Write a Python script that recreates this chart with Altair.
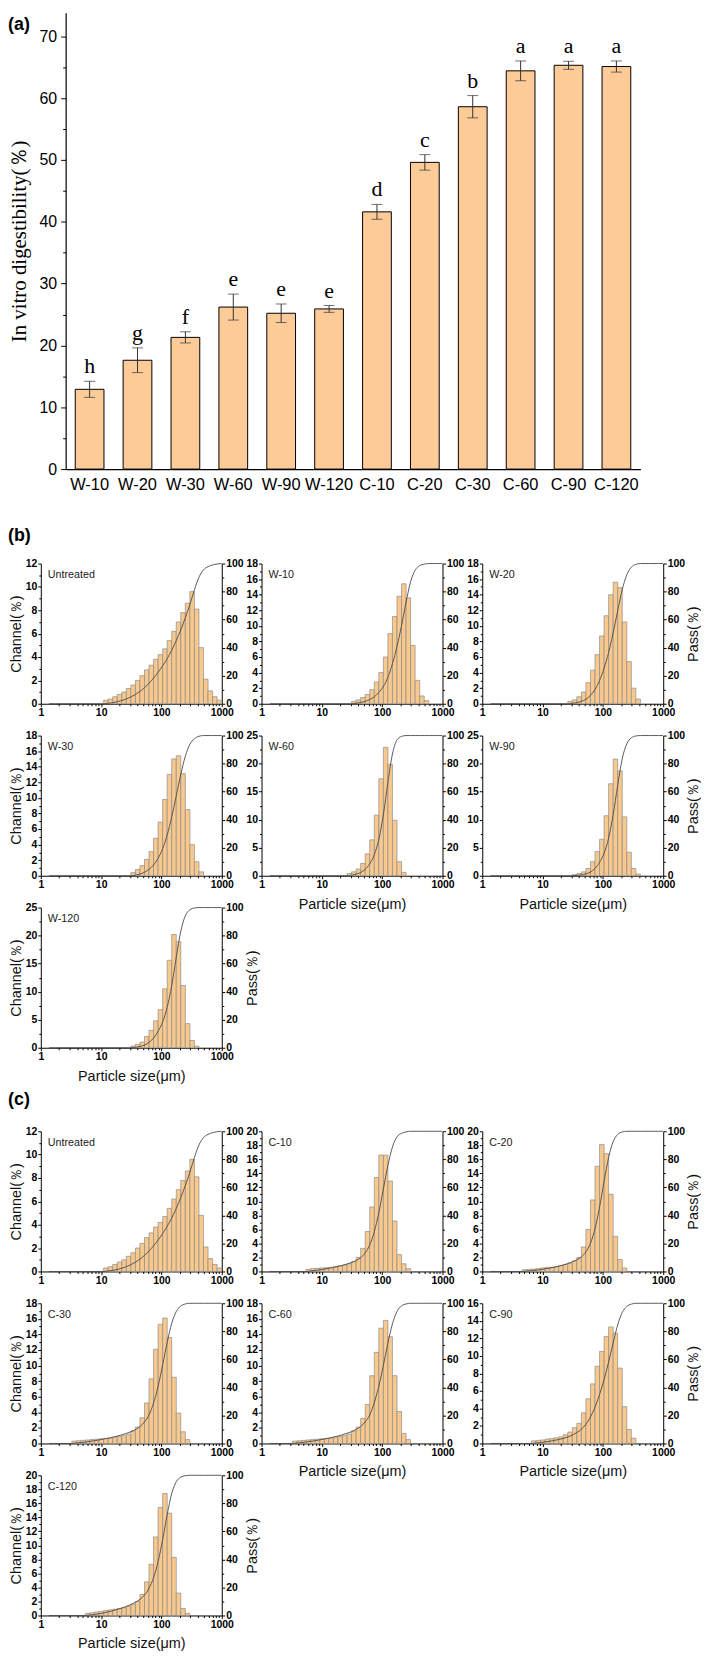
import altair as alt
import pandas as pd

SANS = "Liberation Sans"
SERIF = "Liberation Serif"

# ---------------- panel (a) ----------------
GROUPS = ["W-10", "W-20", "W-30", "W-60", "W-90", "W-120",
          "C-10", "C-20", "C-30", "C-60", "C-90", "C-120"]
DIGESTIBILITY = [12.9, 17.6, 21.3, 26.2, 25.2, 25.9, 41.6, 49.6, 58.6, 64.4, 65.3, 65.1]
DIGEST_SD = [1.3, 2.0, 0.9, 2.1, 1.5, 0.55, 1.2, 1.25, 1.8, 1.6, 0.65, 0.9]
LETTERS = ["h", "g", "f", "e", "e", "e", "d", "c", "b", "a", "a", "a"]
A_TICKS = [0, 10, 20, 30, 40, 50, 60, 70]
A_MINOR = [5, 15, 25, 35, 45, 55, 65]

# ---------------- particle size channels (edges, µm) ----------------
SIZE_EDGES = [0.972, 1.156, 1.375, 1.635, 1.945, 2.312, 2.75, 3.27, 3.889, 4.625,
              5.5, 6.541, 7.778, 9.25, 11.0, 13.08, 15.56, 18.5, 22.0, 26.16,
              31.11, 37.0, 44.0, 52.33, 62.23, 74.0, 88.0, 104.7, 124.5, 148.0,
              176.0, 209.3, 248.9, 296.0, 352.0, 418.6, 497.8, 592.0, 704.0, 837.2, 995.6]

UNTREATED_FROM = 11.0
UNTREATED = [0.3, 0.4, 0.6, 0.8, 1.0, 1.3, 1.6, 2.0, 2.4, 2.9, 3.3, 3.8, 4.2, 4.7,
             5.4, 6.2, 7.0, 7.8, 8.6, 9.6, 8.1, 4.8, 2.1, 1.1, 0.6, 0.3]
W10_FROM = 31.11
W10 = [0.3, 0.5, 0.8, 1.2, 1.8, 2.8, 4.0, 6.0, 9.0, 11.2, 13.8, 15.4, 13.6, 7.5, 3.0, 1.0, 0.4]
W20_FROM = 26.16
W20 = [0.3, 0.5, 0.9, 1.5, 2.7, 4.3, 6.3, 8.7, 11.3, 14.0, 15.6, 14.9, 10.5, 5.4, 2.0, 0.6]
W30_FROM = 31.11
W30 = [0.4, 0.8, 1.3, 2.1, 3.1, 4.8, 6.9, 9.8, 13.0, 15.0, 15.4, 13.1, 8.5, 4.0, 1.8, 0.5]
W60_FROM = 26.16
W60 = [0.4, 0.7, 1.2, 2.2, 3.9, 6.4, 10.8, 17.3, 22.9, 19.9, 9.9, 2.5, 0.6]
W90_FROM = 31.11
W90 = [0.2, 0.4, 0.7, 1.3, 2.5, 4.3, 6.5, 10.7, 16.4, 20.8, 18.7, 10.5, 4.2, 1.3, 0.3]
W120_FROM = 31.11
W120 = [0.3, 0.6, 1.0, 2.0, 3.1, 4.8, 6.8, 10.5, 15.6, 20.2, 18.9, 11.1, 4.3, 1.3, 0.3]
C10_FROM = 5.5
C10 = [0.3, 0.4, 0.45, 0.5, 0.55, 0.6, 0.7, 0.8, 0.9, 1.1, 1.4, 2.0, 3.3, 5.7, 9.2,
       13.4, 16.6, 16.6, 12.9, 7.2, 2.4, 1.1, 0.4]
C20_FROM = 4.625
C20 = [0.25, 0.3, 0.35, 0.4, 0.5, 0.55, 0.6, 0.7, 0.85, 1.0, 1.2, 1.5, 2.0, 3.5, 6.0,
       10.2, 15.0, 18.1, 16.8, 11.0, 5.0, 1.7, 0.5]
C30_FROM = 3.27
C30 = [0.3, 0.35, 0.4, 0.45, 0.5, 0.55, 0.6, 0.65, 0.7, 0.8, 0.9, 1.0, 1.2, 1.6, 2.1,
       3.3, 5.2, 8.3, 12.1, 15.3, 16.1, 13.6, 8.5, 3.9, 1.5, 0.5]
C60_FROM = 3.27
C60 = [0.3, 0.35, 0.4, 0.45, 0.5, 0.55, 0.6, 0.65, 0.7, 0.8, 0.9, 1.0, 1.2, 1.6, 2.1,
       3.2, 5.0, 8.7, 11.7, 14.8, 15.8, 13.7, 8.7, 4.1, 1.3, 0.5]
C90_FROM = 6.541
C90 = [0.3, 0.35, 0.4, 0.5, 0.55, 0.65, 0.75, 1.0, 1.3, 1.8, 2.3, 3.5, 5.1, 6.8, 8.8,
       10.5, 12.2, 13.3, 12.6, 8.6, 4.2, 1.6, 0.6]
C120_FROM = 5.5
C120 = [0.3, 0.4, 0.5, 0.6, 0.7, 0.8, 0.9, 1.0, 1.1, 1.3, 1.6, 2.0, 3.0, 4.8, 7.3,
        11.2, 15.4, 17.4, 14.6, 8.3, 3.2, 1.0, 0.3]

X_MAJOR = [1, 10, 100, 1000]
X_MINOR = [2, 3, 4, 5, 6, 7, 8, 9, 20, 30, 40, 50, 60, 70, 80, 90,
           200, 300, 400, 500, 600, 700, 800, 900]
PASS_TICKS = [0, 20, 40, 60, 80, 100]
PASS_MINOR = [10, 30, 50, 70, 90]

BAR_A = "#FDCB97"
BAR_FILL = "#F9C88C"
BAR_EDGE = "#8C8C8C"
PW, PH = 182, 141


def channel_table(first_edge, values):
    start = SIZE_EDGES.index(first_edge)
    rows = []
    for k in range(1, len(SIZE_EDGES) - 1):
        j = k - start
        v = values[j] if 0 <= j < len(values) else 0.0
        rows.append({"lo": SIZE_EDGES[k], "hi": SIZE_EDGES[k + 1], "ch": v})
    return pd.DataFrame(rows)


def psd_panel(label, first_edge, values, ymax, ystep,
              left_title=False, right_title=False, x_title=False, head=None, head_offset=0):
    table = channel_table(first_edge, values)
    xs = alt.Scale(type="log", domain=[1, 1000])
    bars = alt.Chart(table).transform_filter("datum.ch > 0").mark_rect(
        fill=BAR_FILL, stroke=BAR_EDGE, strokeWidth=0.7
    ).encode(
        x=alt.X("lo:Q", scale=xs, axis=alt.Axis(
            values=X_MAJOR, format="d", orient="bottom", labelPadding=1,
            title="Particle size(μm)" if x_title else None, titlePadding=7)),
        x2="hi:Q",
        y=alt.Y("ch:Q", scale=alt.Scale(domain=[0, ymax], nice=False), axis=alt.Axis(
            values=list(range(0, ymax + 1, ystep)), orient="left", labelPadding=1,
            title="Channel(％)" if left_title else None, titlePadding=2)),
        y2=alt.datum(0),
    )
    left_minor = alt.Chart(table).mark_point(opacity=0).encode(
        x=alt.X("lo:Q", scale=xs, axis=None),
        y=alt.Y("ch:Q", scale=alt.Scale(domain=[0, ymax], nice=False), axis=alt.Axis(
            values=[ystep / 2 + k * ystep for k in range(ymax // ystep)],
            orient="left", labels=False, domain=False, tickSize=2, title=None)))
    line = alt.Chart(table).transform_window(
        cum="sum(ch)", sort=[alt.SortField("lo", order="ascending")]
    ).transform_joinaggregate(tot="sum(ch)").transform_calculate(
        pas="100 * datum.cum / datum.tot"
    ).mark_line(color="#4a4a4a", strokeWidth=0.9, interpolate="monotone").encode(
        x=alt.X("hi:Q", scale=xs, axis=alt.Axis(
            values=X_MINOR, orient="bottom", labels=False, domain=False, tickSize=2, title=None)),
        y=alt.Y("pas:Q", scale=alt.Scale(domain=[0, 100], nice=False), axis=alt.Axis(
            values=PASS_TICKS, orient="right", labelPadding=1,
            title="Pass(％)" if right_title else None, titlePadding=2,
            titleAngle=270, titleBaseline="top")),
    )
    right_minor = alt.Chart(table).mark_point(opacity=0).encode(
        x=alt.X("lo:Q", scale=xs, axis=None),
        y=alt.Y("ch:Q", scale=alt.Scale(domain=[0, 100], nice=False), axis=alt.Axis(
            values=PASS_MINOR, orient="right", labels=False, domain=False, tickSize=2, title=None)))
    text = alt.Chart(pd.DataFrame({"t": [label]})).mark_text(
        align="left", baseline="middle", font=SANS, fontSize=10.8, color="#222"
    ).encode(text="t:N", x=alt.value(7), y=alt.value(12))
    ch = alt.layer(bars, left_minor, line, right_minor, text).resolve_scale(
        y="independent").resolve_axis(x="independent", y="independent").properties(
        width=PW, height=PH)
    if head:
        ch = ch.properties(title=alt.TitleParams(
            head, anchor="start", frame="group", dx=-33, offset=head_offset, baseline="bottom",
            font=SANS, fontSize=18, fontWeight="bold", color="#000"))
    return ch


def blank(h):
    return alt.Chart(pd.DataFrame({"t": [""]})).mark_text().encode(
        text="t:N", x=alt.value(0), y=alt.value(0)).properties(width=PW, height=h)


# ---------------- panel (a) chart ----------------
dfa = pd.DataFrame({"g": GROUPS, "v": DIGESTIBILITY, "sd": DIGEST_SD, "lab": LETTERS})
base_a = alt.Chart(dfa).transform_calculate(lo="datum.v - datum.sd", hi="datum.v + datum.sd")
ya_scale = alt.Scale(domain=[0, 73.8], nice=False)
xa = alt.X("g:N", sort=GROUPS, scale=alt.Scale(paddingInner=0.4, paddingOuter=0.2),
           axis=alt.Axis(title=None, labelAngle=0, ticks=False, labelFont=SANS, labelFontSize=16.5,
                         labelFontWeight="normal", labelPadding=8, domainWidth=1.2))
bars_a = base_a.mark_bar(fill=BAR_A, stroke="#000", strokeWidth=1).encode(
    x=xa,
    y=alt.Y("v:Q", scale=ya_scale, axis=alt.Axis(
        values=A_TICKS, orient="left", labelFont=SANS, labelFontSize=16, labelFontWeight="normal",
        tickSize=5, labelPadding=4, domainWidth=1.2,
        title="In vitro digestibility(％)", titleFont=SERIF, titleFontSize=21, titlePadding=10,
        titleColor="#000")),
)
err_a = base_a.mark_rule(color="#333", strokeWidth=1).encode(x=xa, y="lo:Q", y2="hi:Q")
cap_lo = base_a.mark_tick(color="#333", size=11, thickness=1).encode(x=xa, y="lo:Q")
cap_hi = base_a.mark_tick(color="#333", size=11, thickness=1).encode(x=xa, y="hi:Q")
let_a = base_a.mark_text(font=SERIF, fontSize=22, baseline="bottom", dy=-3, color="#000").encode(
    x=xa, y="hi:Q", text="lab:N")
main_a = alt.layer(bars_a, err_a, cap_lo, cap_hi, let_a)
minor_a = base_a.mark_point(opacity=0).encode(
    x=xa,
    y=alt.Y("v:Q", scale=ya_scale, axis=alt.Axis(
        values=A_MINOR, orient="left", labels=False, domain=False, tickSize=3, title=None)),
)
panel_a = alt.layer(main_a, minor_a).resolve_axis(y="independent").properties(width=578, height=459)

spacer_a = alt.Chart(pd.DataFrame({"t": ["(a)"]})).mark_text(
    align="left", baseline="top", font=SANS, fontSize=18, fontWeight="bold", color="#000"
).encode(text="t:N", x=alt.value(-33), y=alt.value(3)).properties(width=25, height=459)

top_row = alt.hconcat(spacer_a, panel_a, spacing=0, bounds="flush")

# ---------------- panels (b) and (c) in one grid ----------------
cells = [
    psd_panel("Untreated", UNTREATED_FROM, UNTREATED, 12, 2, left_title=True, head="(b)", head_offset=-4),
    psd_panel("W-10", W10_FROM, W10, 18, 2),
    psd_panel("W-20", W20_FROM, W20, 18, 2, right_title=True),
    psd_panel("W-30", W30_FROM, W30, 18, 2, left_title=True),
    psd_panel("W-60", W60_FROM, W60, 25, 5, x_title=True),
    psd_panel("W-90", W90_FROM, W90, 25, 5, right_title=True, x_title=True),
    psd_panel("W-120", W120_FROM, W120, 25, 5, left_title=True, right_title=True, x_title=True),
    blank(PH), blank(PH),
    blank(20), blank(20), blank(20),
    psd_panel("Untreated", UNTREATED_FROM, UNTREATED, 12, 2, left_title=True, head="(c)", head_offset=-1),
    psd_panel("C-10", C10_FROM, C10, 20, 2),
    psd_panel("C-20", C20_FROM, C20, 20, 2, right_title=True),
    psd_panel("C-30", C30_FROM, C30, 18, 2, left_title=True),
    psd_panel("C-60", C60_FROM, C60, 18, 2, x_title=True),
    psd_panel("C-90", C90_FROM, C90, 16, 2, right_title=True, x_title=True),
    psd_panel("C-120", C120_FROM, C120, 20, 2, left_title=True, right_title=True, x_title=True),
    blank(PH), blank(PH),
]
grid = alt.concat(*cells, columns=3, spacing=alt.RowColnumber(row=32, column=40), bounds="flush")

chart = alt.vconcat(top_row, grid, spacing=33).properties(
    padding=0, background="#ffffff"
).configure_view(strokeWidth=0).configure_axis(
    labelFont=SANS, labelFontWeight="bold", labelFontSize=10.5, labelColor="#000",
    tickColor="#000", domainColor="#000", tickSize=3, tickWidth=1, domainWidth=1,
    titleFont=SANS, titleFontWeight="normal", titleFontSize=14.5, titleColor="#111",
    grid=False, labelFlush=False, labelOverlap=False
)

chart.save("out.html", embed_options={"renderer": "svg", "actions": False})
